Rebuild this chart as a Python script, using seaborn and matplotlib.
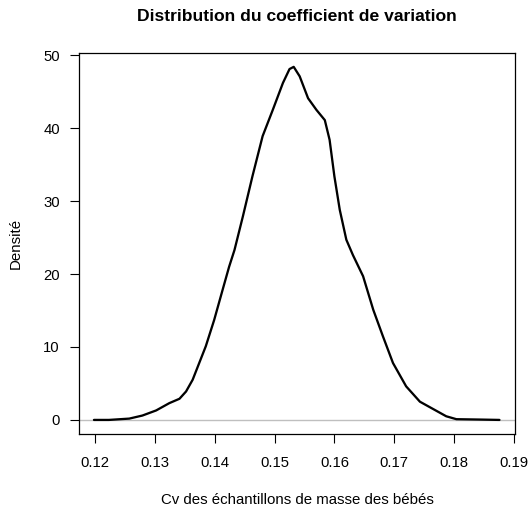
import numpy
import pandas
import seaborn
import matplotlib.pyplot as pyplot

# density curve
cv = [0.1198, 0.1223, 0.1257, 0.1279, 0.1302, 0.1324, 0.1341, 0.1352, 0.1363, 0.1374,
      0.1385, 0.1399, 0.1413, 0.1424, 0.1433, 0.1447, 0.1463, 0.1480, 0.1497, 0.1514,
      0.1525, 0.1532, 0.1542, 0.1556, 0.1570, 0.1584, 0.1592, 0.1600, 0.1609, 0.1620,
      0.1631, 0.1648, 0.1665, 0.1681, 0.1698, 0.1720, 0.1743, 0.1765, 0.1787, 0.1804,
      0.1843, 0.1876]
densite = [0.0, 0.0, 0.18, 0.6, 1.3, 2.3, 2.9, 3.9, 5.5, 7.8,
           10.1, 13.7, 17.8, 21.0, 23.3, 27.9, 33.4, 38.9, 42.5, 46.2,
           48.1, 48.4, 47.1, 44.1, 42.5, 41.1, 38.4, 33.4, 28.8, 24.7,
           22.6, 19.7, 15.1, 11.5, 7.8, 4.6, 2.5, 1.5, 0.5, 0.1,
           0.05, 0.0]
xticks = [0.12, 0.13, 0.14, 0.15, 0.16, 0.17, 0.18, 0.19]
yticks = [0, 10, 20, 30, 40, 50]

seaborn.set_style('ticks')
pyplot.rcParams['font.family'] = ['Liberation Sans', 'DejaVu Sans']
pyplot.rcParams['text.color'] = 'black'
pyplot.rcParams['axes.labelcolor'] = 'black'

df = pandas.DataFrame({'cv': cv, 'densite': densite})

fig = pyplot.figure(figsize=(5.28, 5.09), dpi=100)
ax = fig.add_axes([79/528, 1 - 434/509, (515 - 79)/528, (434 - 53)/509])

ax.axhline(0, color='0.75', linewidth=1.0, zorder=0)
seaborn.lineplot(data=df, x='cv', y='densite', color='black', linewidth=1.65, ax=ax)
ax.lines[-1].set_solid_joinstyle('round')

ax.set_xlim(0.1173, 0.1902)
ax.set_ylim(-1.93, 50.3)
ax.set_xticks(xticks)
ax.set_xticklabels([f'{t:.2f}' for t in xticks])
ax.set_yticks(yticks)
ax.set_yticklabels([str(t) for t in yticks])

for s in ax.spines.values():
    s.set_visible(True)
    s.set_color('black')
    s.set_linewidth(0.9)
ax.tick_params(direction='out', length=6.5, width=0.8, color='black',
               labelsize=10.7, labelcolor='black')
ax.tick_params(axis='x', pad=9.6)
ax.tick_params(axis='y', pad=7.2)

ax.set_xlabel('Cv des échantillons de masse des bébés', fontsize=10.8, labelpad=16.5)
ax.set_ylabel('Densité', fontsize=10.8, labelpad=15)
ax.set_title('Distribution du coefficient de variation', fontsize=12.6,
             fontweight='bold', pad=23)

fig.savefig('out.png', dpi=100)
